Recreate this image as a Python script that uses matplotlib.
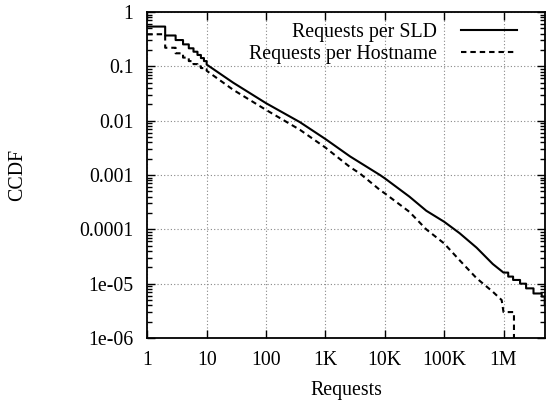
import numpy as np
import matplotlib
matplotlib.use("Agg")
import matplotlib.pyplot as plt
from matplotlib.ticker import FixedLocator, LogLocator, NullLocator, NullFormatter

# ---- data ----
tick_vals = [1, 10, 100, 1e3, 1e4, 1e5, 1e6]
tick_labels = ["1", "10", "100", "1K", "10K", "100K", "1M"]
ytick_vals = [1, 0.1, 0.01, 0.001, 0.0001, 1e-5, 1e-6]
ytick_labels = ["1", "0.1", "0.01", "0.001", "0.0001", "1e-05", "1e-06"]

# Requests per SLD
sld_head_x = [1, 2, 3, 4, 5, 6, 7, 8, 9, 10]
sld_head_y = [0.54, 0.37, 0.305, 0.254, 0.215, 0.186, 0.162, 0.142, 0.125, 0.108]
sld_body_x = [10, 28, 100, 372, 1000, 2600, 3800, 8300, 10000, 26000, 50000,
              100000, 182000, 352000, 660000]
sld_body_y = [0.108, 0.05, 0.021, 0.0094, 0.0046, 0.0022, 0.0017, 0.001, 8.7e-4,
              4.0e-4, 2.2e-4, 1.38e-4, 8.5e-5, 4.6e-5, 2.3e-5]
sld_tail_x = [1.0e6, 1.2e6, 1.45e6, 1.9e6, 2.4e6, 3.2e6, 4.4e6, 4.95e6]
sld_tail_y = [1.6e-5, 1.35e-5, 1.17e-5, 1.0e-5, 8.2e-6, 6.6e-6, 5.8e-6, 4.1e-6]

# Requests per Hostname
host_head_x = [1, 2, 3, 4, 5, 6, 7, 8, 9, 10]
host_head_y = [0.39, 0.22, 0.174, 0.145, 0.125, 0.11, 0.1, 0.093, 0.088, 0.083]
host_body_x = [10, 28, 100, 372, 1000, 2600, 3800, 8300, 10000, 26000, 50000,
               100000, 182000, 352000, 660000, 930000]
host_body_y = [0.083, 0.037, 0.0158, 0.0068, 0.0032, 0.0014, 1.07e-3, 5.3e-4,
               4.6e-4, 2.1e-4, 1.0e-4, 5.5e-5, 2.7e-5, 1.26e-5, 7.1e-6, 5e-6]
host_tail_x = [1.0e6, 1.5e6]
host_tail_y = [3e-6, 1e-8]


def stairs(xs, ys):
    xs = np.asarray(xs, float)
    ys = np.asarray(ys, float)
    ox = [xs[0]]
    oy = [ys[0]]
    for i in range(1, len(xs)):
        ox += [xs[i], xs[i]]
        oy += [ys[i - 1], ys[i]]
    return np.array(ox), np.array(oy)


def series(hx, hy, bx, by, tx, ty):
    sx, sy = stairs(hx, hy)
    ex, ey = stairs(tx, ty)
    return (np.concatenate([sx, bx, ex]), np.concatenate([sy, by, ey]))


plt.rcParams['font.family'] = ['Liberation Serif', 'DejaVu Serif']
plt.rcParams['font.size'] = 14.3

fig = plt.figure(figsize=(5.55, 4.01), dpi=100)
ax = fig.add_axes([0.2654, 0.1571, 0.7166, 0.8129])

x1, y1 = series(sld_head_x, sld_head_y, sld_body_x, sld_body_y, sld_tail_x, sld_tail_y)
x2, y2 = series(host_head_x, host_head_y, host_body_x, host_body_y, host_tail_x, host_tail_y)

ax.plot(x1, y1, color='black', lw=1.5, label='Requests per SLD')
ax.plot(x2, y2, color='black', lw=1.5, linestyle=(0, (2.6, 1.9)),
        label='Requests per Hostname')

ax.set_xscale('log')
ax.set_yscale('log')
ax.set_xlim(1, 5e6)
ax.set_ylim(1e-6, 1)

ax.xaxis.set_major_locator(FixedLocator(tick_vals))
ax.set_xticklabels(tick_labels)
ax.xaxis.set_minor_locator(NullLocator())
ax.yaxis.set_major_locator(FixedLocator(ytick_vals))
ax.set_yticklabels(ytick_labels)
ax.yaxis.set_minor_locator(LogLocator(base=10, subs=np.arange(2, 10), numticks=20))
ax.yaxis.set_minor_formatter(NullFormatter())

ax.tick_params(which='both', direction='in', top=True, right=True, width=1.0)
ax.tick_params(which='major', length=6)
ax.tick_params(which='minor', length=3.5)
ax.tick_params(axis='y', which='major', pad=10)
ax.tick_params(axis='x', which='major', pad=9)

ax.grid(True, which='major', linestyle=(0, (1, 2)), color='#888888', lw=0.8)
for s in ax.spines.values():
    s.set_linewidth(1.3)

ax.set_xlabel('Requests', va='top')
ax.xaxis.set_label_coords(0.5, -0.131)
ax.set_ylabel('CCDF')
ax.yaxis.set_label_coords(-0.3025, 0.5)

ax.legend(loc='upper right', bbox_to_anchor=(0.935, 0.972), frameon=False,
          markerfirst=False, alignment='right', handlelength=2.83,
          handletextpad=1.2, borderpad=0.1, borderaxespad=0.0,
          labelspacing=0.12)

fig.savefig('out.png', dpi=100)
